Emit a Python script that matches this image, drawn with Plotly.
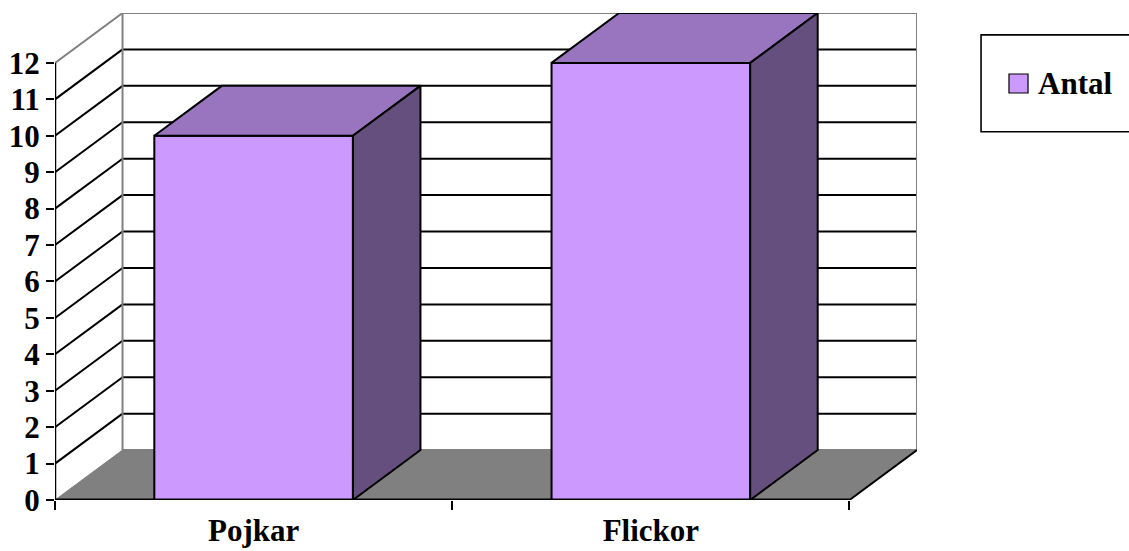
import plotly.graph_objects as go

# Data
categories = ["Pojkar", "Flickor"]
antal = [10, 12]
y_ticks = list(range(0, 13))
series_name = "Antal"

# Styling / pseudo-3D geometry
FONT = dict(family="Liberation Serif", size=31, color="black", weight="bold")
FRONT = "#CC99FF"
TOP = "#9975BF"
SIDE = "#654F7F"
FLOOR = "#808080"
EDGE_GRAY = "#808080"
BAR_W = 0.5
DX = 0.17      # depth offset in x units
DY = 1.37      # depth offset in value units
YMAX = 12
XL, XR = -0.5, len(categories) - 0.5

xs = list(range(len(categories)))

fig = go.Figure()

# Front faces of the bars
fig.add_trace(go.Bar(
    x=xs, y=antal, width=BAR_W, name=series_name,
    marker=dict(color=FRONT, line=dict(color="black", width=2)),
    hoverinfo="skip", showlegend=False,
))

# Top and side faces derived from the values
for x, v in zip(xs, antal):
    l, r = x - BAR_W / 2, x + BAR_W / 2
    fig.add_trace(go.Scatter(
        x=[l, l + DX, r + DX, r, l], y=[v, v + DY, v + DY, v, v],
        fill="toself", fillcolor=TOP, mode="lines",
        line=dict(color="black", width=2), hoverinfo="skip", showlegend=False,
    ))
    fig.add_trace(go.Scatter(
        x=[r, r + DX, r + DX, r, r], y=[0, DY, v + DY, v, 0],
        fill="toself", fillcolor=SIDE, mode="lines",
        line=dict(color="black", width=2), hoverinfo="skip", showlegend=False,
    ))

shapes = []
# Back-wall gridlines and left-wall diagonals
for v in y_ticks[1:-1]:
    shapes.append(dict(type="line", layer="below", x0=XL + DX, x1=XR + DX, y0=v + DY, y1=v + DY,
                       line=dict(color="black", width=2)))
    shapes.append(dict(type="line", layer="below", x0=XL, x1=XL + DX, y0=v, y1=v + DY,
                       line=dict(color="black", width=2)))
# Floor
shapes.append(dict(type="path", layer="below",
                   path=f"M {XL},0 L {XR},0 L {XR + DX},{DY} L {XL + DX},{DY} Z",
                   fillcolor=FLOOR, line=dict(color=EDGE_GRAY, width=1)))
# Wall outlines
for (x0, y0, x1, y1) in [
    (XL + DX, DY, XL + DX, YMAX + DY),
    (XL + DX, YMAX + DY, XR + DX, YMAX + DY),
    (XR + DX, DY, XR + DX, YMAX + DY),
    (XL + DX, DY, XR + DX, DY),
    (XL, YMAX, XL + DX, YMAX + DY),
]:
    shapes.append(dict(type="line", layer="below", x0=x0, y0=y0, x1=x1, y1=y1,
                       line=dict(color=EDGE_GRAY, width=2)))
# Floor right edge, value axis line and category axis line
shapes.append(dict(type="line", layer="above", x0=XR, y0=0, x1=XR + DX, y1=DY,
                   line=dict(color="black", width=2)))
shapes.append(dict(type="line", layer="above", x0=XL, y0=0, x1=XL, y1=YMAX,
                   line=dict(color="black", width=2.5)))
shapes.append(dict(type="line", layer="above", x0=XL, y0=0, x1=XR, y1=0,
                   line=dict(color="black", width=3)))

# Legend box and key
shapes.append(dict(type="rect", xref="paper", yref="paper",
                   x0=1.0743, x1=1.26, y0=0.7563, y1=0.955,
                   line=dict(color="black", width=1.6), fillcolor="white"))
shapes.append(dict(type="rect", xref="paper", yref="paper",
                   x0=1.1067, x1=1.1288, y0=0.8357, y1=0.8747,
                   line=dict(color="black", width=1.2), fillcolor=FRONT))

fig.update_layout(
    width=1129, height=551,
    margin=dict(l=55, r=212, t=13, b=51),
    paper_bgcolor="white", plot_bgcolor="white",
    font=FONT,
    shapes=shapes,
    showlegend=False,
    annotations=[dict(text=series_name, xref="paper", yref="paper",
                      x=1.1381, y=0.855, xanchor="left", yanchor="middle",
                      showarrow=False, font=FONT)],
    xaxis=dict(range=[XL, XR + DX], tickvals=xs, ticktext=categories,
               ticks="", showgrid=False, zeroline=False, showline=False,
               tickfont=FONT, ticklabelstandoff=9, automargin=False,
               minor=dict(tickvals=[XL + i for i in range(len(categories) + 1)],
                          ticks="outside", ticklen=9, tickwidth=2, tickcolor="black",
                          showgrid=False)),
    yaxis=dict(range=[0, YMAX + DY], tickvals=y_ticks, ticks="outside",
               ticklen=8, tickwidth=2, tickcolor="black", automargin=False,
               showgrid=False, zeroline=False, showline=False, tickfont=FONT),
)

fig.write_html("out.html")
